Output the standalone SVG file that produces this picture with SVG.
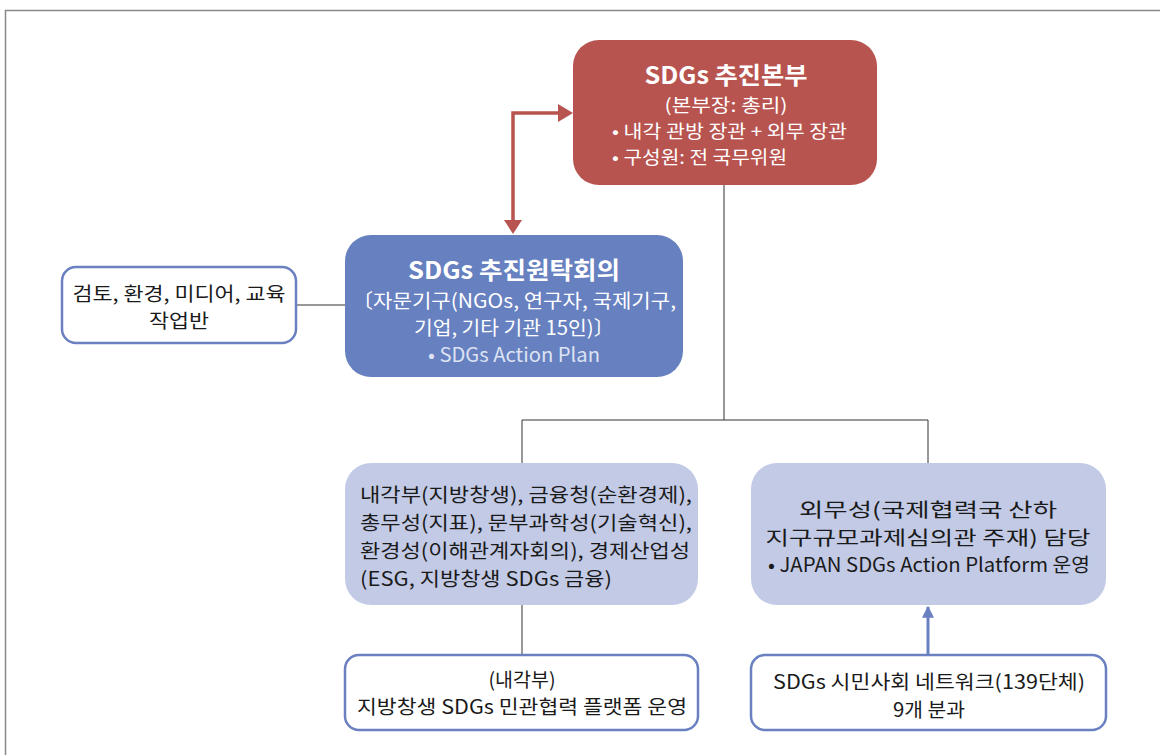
<svg xmlns="http://www.w3.org/2000/svg" width="1160" height="755" viewBox="0 0 1160 755">
<defs>
<style>
text{font-family:"Noto Sans CJK KR","Liberation Sans",sans-serif;dominant-baseline:central}
.w{fill:#fff}
.k{fill:#1a1a1a}
.c{text-anchor:middle}
.t{font-size:24px;font-weight:bold}
.m{font-size:19.5px}
.s{font-size:18px}
.thin{stroke:#333;stroke-width:1;fill:none}
.wb{fill:#fff;stroke:#6a80c0;stroke-width:2.5}
.lb{fill:#c2cae6}
</style>
<marker id="ab" viewBox="0 0 10 10" refX="9" refY="5" markerWidth="14" markerHeight="12" orient="auto" markerUnits="userSpaceOnUse">
<path d="M0,0 L10,5 L0,10 Z" fill="#6a80c0"/>
</marker>
</defs>
<rect width="1160" height="755" fill="#fff"/>
<path d="M5.5,755 V10.5 H1160" fill="none" stroke="#888" stroke-width="1.5"/>

<g id="connectors">
<path d="M513,224 V113 H562" fill="none" stroke="#b85450" stroke-width="3.5"/>
<path class="thin" d="M724,185 V420 M522,463 V420 H928 V463"/>
<path class="thin" d="M296,305 H345"/>
<path class="thin" d="M522,605 V655"/>
<path d="M928,655 V607" stroke="#6a80c0" stroke-width="3" fill="none" marker-end="url(#ab)"/>
<path d="M558,104 L573,113 L558,122 Z" fill="#b85450"/>
<path d="M504,220 L513,234 L522,220 Z" fill="#b85450"/>
</g>

<g id="n-hq">
<rect x="573" y="40" width="304" height="145" rx="26" fill="#b85450"/>
<text class="w c t" x="726" y="73" textLength="163" lengthAdjust="spacingAndGlyphs">SDGs 추진본부</text>
<text class="w c s" x="726" y="104" textLength="123" lengthAdjust="spacingAndGlyphs">(본부장: 총리)</text>
<text class="w s" x="612" y="130" textLength="235" lengthAdjust="spacingAndGlyphs">• 내각 관방 장관 + 외무 장관</text>
<text class="w s" x="612" y="156" textLength="175" lengthAdjust="spacingAndGlyphs">• 구성원: 전 국무위원</text>
</g>

<g id="n-roundtable">
<rect x="345" y="235" width="338" height="142" rx="26" fill="#6680c0"/>
<text class="w c t" x="514" y="268" textLength="212" lengthAdjust="spacingAndGlyphs">SDGs 추진원탁회의</text>
<text class="w c m" x="514" y="299" textLength="324" lengthAdjust="spacingAndGlyphs">〔자문기구(NGOs, 연구자, 국제기구,</text>
<text class="w c m" x="514" y="326" textLength="200" lengthAdjust="spacingAndGlyphs">기업, 기타 기관 15인)〕</text>
<text class="c m" x="514" y="353" fill="#dde3f3" textLength="172" lengthAdjust="spacingAndGlyphs">• SDGs Action Plan</text>
</g>

<g id="n-working">
<rect class="wb" x="62" y="267" width="234" height="76" rx="14"/>
<text class="k c m" x="179" y="292" textLength="213" lengthAdjust="spacingAndGlyphs">검토, 환경, 미디어, 교육</text>
<text class="k c m" x="179" y="319" textLength="60" lengthAdjust="spacingAndGlyphs">작업반</text>
</g>

<g id="n-ministries">
<rect class="lb" x="345" y="463" width="353" height="142" rx="26"/>
<text class="k m" x="360" y="493" textLength="332" lengthAdjust="spacingAndGlyphs">내각부(지방창생),  금융청(순환경제),</text>
<text class="k m" x="360" y="521" textLength="332" lengthAdjust="spacingAndGlyphs">총무성(지표),  문부과학성(기술혁신),</text>
<text class="k m" x="360" y="549" textLength="330" lengthAdjust="spacingAndGlyphs">환경성(이해관계자회의),  경제산업성</text>
<text class="k m" x="360" y="577" textLength="252" lengthAdjust="spacingAndGlyphs">(ESG, 지방창생 SDGs 금융)</text>
</g>

<g id="n-mofa">
<rect class="lb" x="751" y="463" width="355" height="142" rx="26"/>
<text class="k c m" x="928" y="508" textLength="258" lengthAdjust="spacingAndGlyphs">외무성(국제협력국 산하</text>
<text class="k c m" x="928" y="536" textLength="325" lengthAdjust="spacingAndGlyphs">지구규모과제심의관 주재) 담당</text>
<text class="k c m" x="929" y="563" textLength="322" lengthAdjust="spacingAndGlyphs">• JAPAN SDGs Action Platform 운영</text>
</g>

<g id="n-platform">
<rect class="wb" x="345" y="655" width="353" height="75" rx="14"/>
<text class="k c m" x="522" y="678" textLength="67" lengthAdjust="spacingAndGlyphs">(내각부)</text>
<text class="k c m" x="522" y="705" textLength="330" lengthAdjust="spacingAndGlyphs">지방창생 SDGs 민관협력 플랫폼 운영</text>
</g>

<g id="n-network">
<rect class="wb" x="751" y="655" width="355" height="75" rx="14"/>
<text class="k c m" x="929" y="680" textLength="312" lengthAdjust="spacingAndGlyphs">SDGs 시민사회 네트워크(139단체)</text>
<text class="k c m" x="929" y="708" textLength="72" lengthAdjust="spacingAndGlyphs">9개 분과</text>
</g>
</svg>
